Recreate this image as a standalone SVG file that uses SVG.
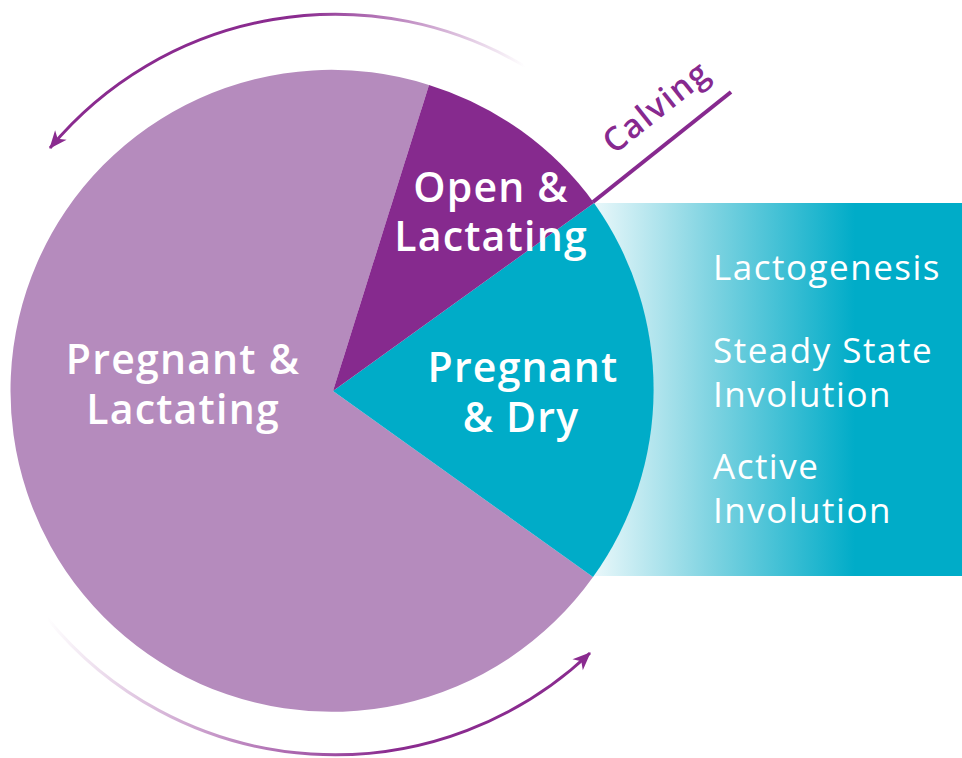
<svg xmlns="http://www.w3.org/2000/svg" width="962" height="758" viewBox="0 0 962 758">
<style>
.lbl{font-family:"Open Sans","Liberation Sans",sans-serif;font-weight:600;fill:#fff;text-anchor:middle;font-size:41px;letter-spacing:1.2px}
.side{font-family:"Open Sans","Liberation Sans",sans-serif;font-weight:500;fill:#fff;font-size:35px;letter-spacing:1.5px}
.arc{fill:none;stroke-width:3}
</style>
<defs>
<linearGradient id="panel" gradientUnits="userSpaceOnUse" x1="595" y1="0" x2="855" y2="0">
<stop offset="0" stop-color="#e8f7fa"/>
<stop offset="0.45" stop-color="#7ed3e1"/>
<stop offset="1" stop-color="#00acc8"/>
</linearGradient>
<linearGradient id="gTop" gradientUnits="userSpaceOnUse" x1="525" y1="0" x2="300" y2="0">
<stop offset="0" stop-color="#8a2b8f" stop-opacity="0"/>
<stop offset="1" stop-color="#8a2b8f" stop-opacity="1"/>
</linearGradient>
<linearGradient id="gBot" gradientUnits="userSpaceOnUse" x1="47" y1="0" x2="390" y2="0">
<stop offset="0" stop-color="#8a2b8f" stop-opacity="0"/>
<stop offset="1" stop-color="#8a2b8f" stop-opacity="1"/>
</linearGradient>
<marker id="ah" viewBox="-18 -8 20 16" refX="0" refY="0" markerWidth="20" markerHeight="16" markerUnits="userSpaceOnUse" orient="auto">
<path d="M1,0 L-17,-7.5 L-12,0 L-17,7.5 Z" fill="#8a2b8f"/>
</marker>
</defs>
<g id="panel-box">
<rect x="593" y="203" width="369" height="373" fill="url(#panel)"/>
<text class="side" x="713" y="280">Lactogenesis</text>
<text class="side" x="713" y="363">Steady State</text>
<text class="side" x="713" y="407">Involution</text>
<text class="side" x="713" y="479">Active</text>
<text class="side" x="713" y="523">Involution</text>
</g>
<g id="pregnant-lactating">
<path d="M333,391 L593,577 A321,321 0 1 1 429,85 Z" fill="#b58bbd"/>
<text class="lbl" x="183" y="374">Pregnant &amp;</text>
<text class="lbl" x="183" y="424">Lactating</text>
</g>
<g id="pregnant-dry">
<path d="M333,391 L594,203 A321,321 0 0 1 593,577 Z" fill="#00acc8"/>
<text class="lbl" x="523" y="382">Pregnant</text>
<text class="lbl" x="521" y="432">&amp; Dry</text>
</g>
<g id="open-lactating">
<path d="M333,391 L429,85 A321,321 0 0 1 594,203 Z" fill="#862a8e"/>
<text class="lbl" x="491" y="202">Open &amp;</text>
<text class="lbl" x="491" y="251">Lactating</text>
</g>
<g id="calving">
<line x1="593" y1="202" x2="731" y2="92" stroke="#87298f" stroke-width="4"/>
<text x="0" y="0" transform="translate(614,155) rotate(-38.5)" font-family="'Open Sans','Liberation Sans',sans-serif" font-weight="600" font-size="33" letter-spacing="1.5" fill="#87298f">Calving</text>
</g>
<g id="connectors">
<path class="arc" d="M526,67 A371,371 0 0 0 50,148" stroke="url(#gTop)" marker-end="url(#ah)"/>
<path class="arc" d="M47,618 A371,371 0 0 0 590,653" stroke="url(#gBot)" marker-end="url(#ah)"/>
</g>
</svg>
